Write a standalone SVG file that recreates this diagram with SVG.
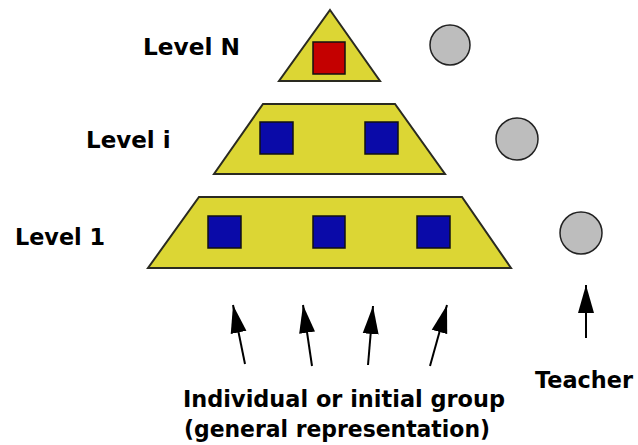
<svg xmlns="http://www.w3.org/2000/svg" width="638" height="445" viewBox="0 0 638 445">
<style>
.lvl{fill:#dcd634;stroke:#2a2a20;stroke-width:2}
.blue{fill:#0a0aa8;stroke:#111;stroke-width:1.5}
.red{fill:#c40000;stroke:#111;stroke-width:1.5}
.circ{fill:#bdbdbd;stroke:#222;stroke-width:1.5}
.t{font-family:"DejaVu Sans",Verdana,sans-serif;font-weight:bold;font-size:23px;fill:#000}
.arr{stroke:#000;stroke-width:2;fill:none;marker-end:url(#ah)}
</style>
<defs>
<marker id="ah" markerUnits="userSpaceOnUse" markerWidth="30" markerHeight="20" refX="28" refY="10" orient="auto">
<polygon points="0,2 28,10 0,18" fill="#000"/>
</marker>
</defs>
<rect width="638" height="445" fill="#fff"/>
<g id="levelN">
<polygon class="lvl" points="330,10 380,81 279,81"/>
<rect class="red" x="313" y="42" width="32" height="32"/>
<text class="t" x="143" y="55" textLength="97" lengthAdjust="spacingAndGlyphs">Level N</text>
</g>
<g id="levelI">
<polygon class="lvl" points="263,104 395,104 445,174 214,174"/>
<rect class="blue" x="260" y="122" width="33" height="32"/>
<rect class="blue" x="365" y="122" width="33" height="32"/>
<text class="t" x="86" y="148">Level i</text>
</g>
<g id="level1">
<polygon class="lvl" points="199,197 462,197 511,268 148,268"/>
<rect class="blue" x="208" y="216" width="33" height="32"/>
<rect class="blue" x="313" y="216" width="32" height="32"/>
<rect class="blue" x="417" y="216" width="33" height="32"/>
<text class="t" x="15" y="245" textLength="90" lengthAdjust="spacingAndGlyphs">Level 1</text>
</g>
<g id="teachers">
<circle class="circ" cx="450" cy="45" r="20"/>
<circle class="circ" cx="517" cy="139" r="21"/>
<circle class="circ" cx="581" cy="233" r="21"/>
</g>
<g id="connectors">
<line class="arr" x1="245" y1="364" x2="233" y2="305"/>
<line class="arr" x1="312" y1="366" x2="303" y2="305"/>
<line class="arr" x1="368" y1="365" x2="373" y2="306"/>
<line class="arr" x1="430" y1="366" x2="447" y2="305"/>
<line class="arr" x1="586" y1="338" x2="586" y2="285"/>
</g>
<g id="labels">
<text class="t" x="535" y="388" textLength="98" lengthAdjust="spacingAndGlyphs">Teacher</text>
<text class="t" x="183" y="407" textLength="322" lengthAdjust="spacingAndGlyphs">Individual or initial group</text>
<text class="t" x="184" y="437" textLength="306" lengthAdjust="spacingAndGlyphs">(general representation)</text>
</g>
</svg>
